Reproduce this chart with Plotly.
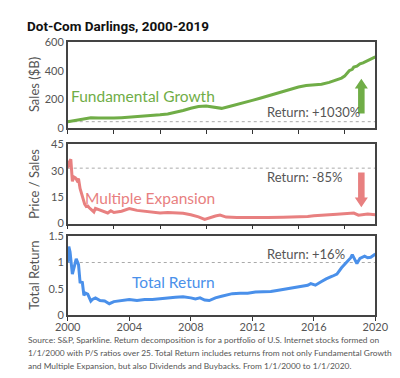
import plotly.graph_objects as go

W, H = 400, 378

# ---------------- data ----------------
sales_years = [2000.0, 2000.5, 2001.0, 2001.5, 2002.0, 2002.5, 2003.0, 2003.5, 2004.0, 2004.5,
               2005.0, 2005.5, 2006.0, 2006.5, 2007.0, 2007.5, 2008.0, 2008.5, 2009.0, 2009.5,
               2010.0, 2010.5, 2011.0, 2011.5, 2012.0, 2012.5, 2013.0, 2013.5, 2014.0, 2014.5,
               2015.0, 2015.5, 2016.0, 2016.5, 2017.0, 2017.5, 2017.8, 2018.0, 2018.2, 2018.3,
               2018.5, 2018.6, 2018.8, 2019.0, 2019.2, 2019.5, 2019.8, 2020.0]
sales_vals = [44, 52, 62, 72, 70, 67, 69, 72, 75, 78,
              82, 87, 92, 98, 108, 122, 138, 150, 153, 145,
              137, 150, 163, 177, 193, 208, 224, 240, 255, 271,
              286, 296, 301, 306, 318, 335, 348, 362, 385, 400,
              410, 425, 432, 448, 455, 470, 485, 497]

ps_years = [2000.0, 2000.1, 2000.2, 2000.3, 2000.4, 2000.5, 2000.6, 2000.7, 2000.8, 2000.9,
            2001.0, 2001.1, 2001.2, 2001.3, 2001.4, 2001.5, 2001.7, 2001.8, 2002.0, 2002.3,
            2002.6, 2002.8, 2003.0, 2003.5, 2004.0, 2004.5, 2005.0, 2005.5, 2006.0, 2006.5,
            2007.0, 2007.5, 2008.0, 2008.5, 2008.9, 2009.2, 2009.6, 2009.9, 2010.3, 2011.0,
            2012.0, 2013.0, 2014.0, 2015.0, 2015.6, 2016.0, 2016.4, 2017.0, 2017.5, 2017.8,
            2018.3, 2018.6, 2018.9, 2019.2, 2019.5, 2020.0]
ps_vals = [31.5, 35.0, 36.5, 24.0, 26.5, 26.0, 24.5, 25.5, 20.0, 17.0,
           15.0, 11.0, 9.7, 10.0, 9.0, 8.0, 6.6, 8.6, 8.0, 7.0,
           6.0, 7.3, 6.3, 7.0, 8.5, 7.5, 7.0, 6.5, 6.0, 6.3,
           6.0, 5.8, 5.0, 3.8, 2.4, 3.3, 4.3, 4.8, 3.7, 3.4,
           3.3, 3.4, 3.6, 3.7, 4.0, 4.4, 4.8, 5.0, 5.3, 5.5,
           5.8, 6.0, 4.8, 5.2, 5.4, 5.0]

tr_years = [2000.0, 2000.07, 2000.15, 2000.3, 2000.45, 2000.55, 2000.7, 2000.8, 2000.95, 2001.05,
            2001.15, 2001.3, 2001.5, 2001.6, 2001.8, 2002.1, 2002.4, 2002.7, 2003.0, 2003.5,
            2004.0, 2004.5, 2005.0, 2005.5, 2006.0, 2006.5, 2007.0, 2007.5, 2008.0, 2008.3,
            2008.6, 2008.9, 2009.2, 2009.6, 2010.0, 2010.7, 2011.2, 2011.7, 2012.2, 2012.7,
            2013.2, 2013.6, 2014.2, 2014.7, 2015.2, 2015.6, 2015.8, 2016.1, 2016.5, 2016.8,
            2017.2, 2017.5, 2017.8, 2018.0, 2018.2, 2018.4, 2018.5, 2018.65, 2018.8, 2019.0,
            2019.3, 2019.5, 2019.7, 2020.0]
tr_vals = [1.0, 1.3, 1.2, 0.78, 0.95, 1.07, 0.96, 0.63, 0.62, 0.38,
           0.42, 0.4, 0.27, 0.3, 0.33, 0.28, 0.27, 0.22, 0.26, 0.28,
           0.3, 0.28, 0.3, 0.3, 0.32, 0.33, 0.34, 0.35, 0.33, 0.31,
           0.33, 0.29, 0.28, 0.33, 0.36, 0.41, 0.42, 0.42, 0.44, 0.44,
           0.45, 0.47, 0.5, 0.52, 0.55, 0.57, 0.6, 0.57, 0.64, 0.69,
           0.74, 0.78, 0.9, 0.97, 1.04, 1.09, 1.15, 1.05, 0.98, 1.08,
           1.12, 1.09, 1.1, 1.16]

panel_titles = ["Sales ($B)", "Price / Sales", "Total Return"]
series_labels = ["Fundamental Growth", "Multiple Expansion", "Total Return"]
return_labels = ["Return: +1030%", "Return: -85%", "Return: +16%"]
y_ranges = [[0, 600], [0, 45], [0, 1.5]]
y_ticks = [[0, 200, 400, 600], [0, 15, 30, 45], [0, 0.5, 1, 1.5]]
y_ticktext = [["0", "200", "400", "600"], ["0", "15", "30", "45"], ["0", "0.5", "1", "1.5"]]
x_ticks_upper = [2000, 2003, 2006, 2009, 2012, 2015, 2018]
x_ticks_lower = [2000, 2004, 2008, 2012, 2016, 2020]

colors = ["#70AD47", "#E88080", "#4A90EA"]

# ---------------- layout helpers ----------------
def px(x):
    return x / W

def py(y):
    return 1 - y / H

x_dom = [px(50), px(379)]
panels_px = [(28, 117), (134, 216), (229, 311)]
y_doms = [[py(b), py(t)] for (t, b) in panels_px]

FONT = "Lato"
GRAY = "#555555"

fig = go.Figure()
series = [(sales_years, sales_vals), (ps_years, ps_vals), (tr_years, tr_vals)]
for i, (xs, ys) in enumerate(series):
    fig.add_trace(go.Scatter(x=xs, y=ys, mode="lines",
                             line=dict(color=colors[i], width=3),
                             xaxis="x" if i == 0 else f"x{i+1}",
                             yaxis="y" if i == 0 else f"y{i+1}",
                             showlegend=False, hoverinfo="skip"))

layout = dict(width=W, height=H, margin=dict(l=0, r=0, t=0, b=0),
              paper_bgcolor="white", plot_bgcolor="white", showlegend=False,
              font=dict(family=FONT, color=GRAY, size=11))

for i in range(3):
    xn = "xaxis" if i == 0 else f"xaxis{i+1}"
    yn = "yaxis" if i == 0 else f"yaxis{i+1}"
    yid = "y" if i == 0 else f"y{i+1}"
    xid = "x" if i == 0 else f"x{i+1}"
    lower = (i == 2)
    layout[xn] = dict(domain=x_dom, anchor=yid, range=[2000, 2020],
                      tickmode="array",
                      tickvals=x_ticks_lower if lower else x_ticks_upper,
                      ticktext=[str(v) for v in x_ticks_lower] if lower else None,
                      showticklabels=lower, ticks="outside", ticklen=4, tickwidth=1.2,
                      tickcolor="#333", showgrid=False, zeroline=False,
                      ticklabelstandoff=-3,
                      showline=True, mirror=True, linecolor="#444", linewidth=1.5,
                      tickfont=dict(size=11, color=GRAY, family=FONT))
    layout[yn] = dict(domain=y_doms[i], anchor=xid, range=y_ranges[i],
                      tickmode="array", tickvals=y_ticks[i], ticktext=y_ticktext[i],
                      ticks="", showgrid=False, zeroline=False,
                      showline=True, mirror=True, linecolor="#444", linewidth=1.5,
                      tickfont=dict(size=11, color=GRAY, family=FONT))

fig.update_layout(**layout)

# reference lines at the starting value of each series
for i, (xs, ys) in enumerate(series):
    yid = "y" if i == 0 else f"y{i+1}"
    xid = "x" if i == 0 else f"x{i+1}"
    fig.add_shape(type="line", xref=f"{xid} domain", yref=yid, x0=0, x1=1,
                  y0=ys[0], y1=ys[0], line=dict(color="#AAAAAA", width=1, dash="dot"),
                  layer="below")

annotations = []
# title
annotations.append(dict(text="<b>Dot-Com Darlings, 2000-2019</b>", xref="paper", yref="paper",
                        x=px(4), y=py(11), xanchor="left", yanchor="middle", showarrow=False,
                        font=dict(family="Roboto", size=13.5, color="#111")))
label_y = [84, 189, 276]
ret_y = [100, 167.5, 247.5]
for i in range(3):
    t, b = panels_px[i]
    annotations.append(dict(text=panel_titles[i], xref="paper", yref="paper",
                            x=px(14), y=py((t + b) / 2), textangle=-90,
                            xanchor="center", yanchor="middle", showarrow=False,
                            font=dict(family=FONT, size=13, color=GRAY)))
    annotations.append(dict(text=series_labels[i], xref="paper", yref="paper",
                            x=px(210), y=py(label_y[i]), xanchor="right", yanchor="middle",
                            showarrow=False, font=dict(family=FONT, size=15.5, color=colors[i])))
    annotations.append(dict(text=return_labels[i], xref="paper", yref="paper",
                            x=px(261), y=py(ret_y[i]), xanchor="left", yanchor="middle",
                            showarrow=False, font=dict(family=FONT, size=13, color=GRAY)))

foot = ["Source: S&P, Sparkline. Return decomposition is for a portfolio of U.S. Internet stocks formed on",
        "1/1/2000 with P/S ratios over 25. Total Return includes returns from not only Fundamental Growth",
        "and Multiple Expansion, but also Dividends and Buybacks. From 1/1/2000 to 1/1/2020."]
for k, line in enumerate(foot):
    annotations.append(dict(text=line, xref="paper", yref="paper", x=px(5), y=py(337 + 13 * k),
                            xanchor="left", yanchor="middle", showarrow=False,
                            font=dict(family=FONT, size=8.4, color=GRAY)))
fig.update_layout(annotations=annotations)

# arrows (decorations)
def arrow_path(cx, y_tail, y_head_base, y_tip, shaft_w=7, head_w=14):
    pts = [(cx - shaft_w / 2, y_tail), (cx - shaft_w / 2, y_head_base), (cx - head_w / 2, y_head_base),
           (cx, y_tip), (cx + head_w / 2, y_head_base), (cx + shaft_w / 2, y_head_base),
           (cx + shaft_w / 2, y_tail)]
    return "M " + " L ".join(f"{px(x):.5f},{py(y):.5f}" for x, y in pts) + " Z"

fig.add_shape(type="path", xref="paper", yref="paper", path=arrow_path(364, 102, 76, 66),
              fillcolor=colors[0], line=dict(width=0))
fig.add_shape(type="path", xref="paper", yref="paper", path=arrow_path(364, 163, 189, 199),
              fillcolor=colors[1], line=dict(width=0))

fig.write_html("out.html")
